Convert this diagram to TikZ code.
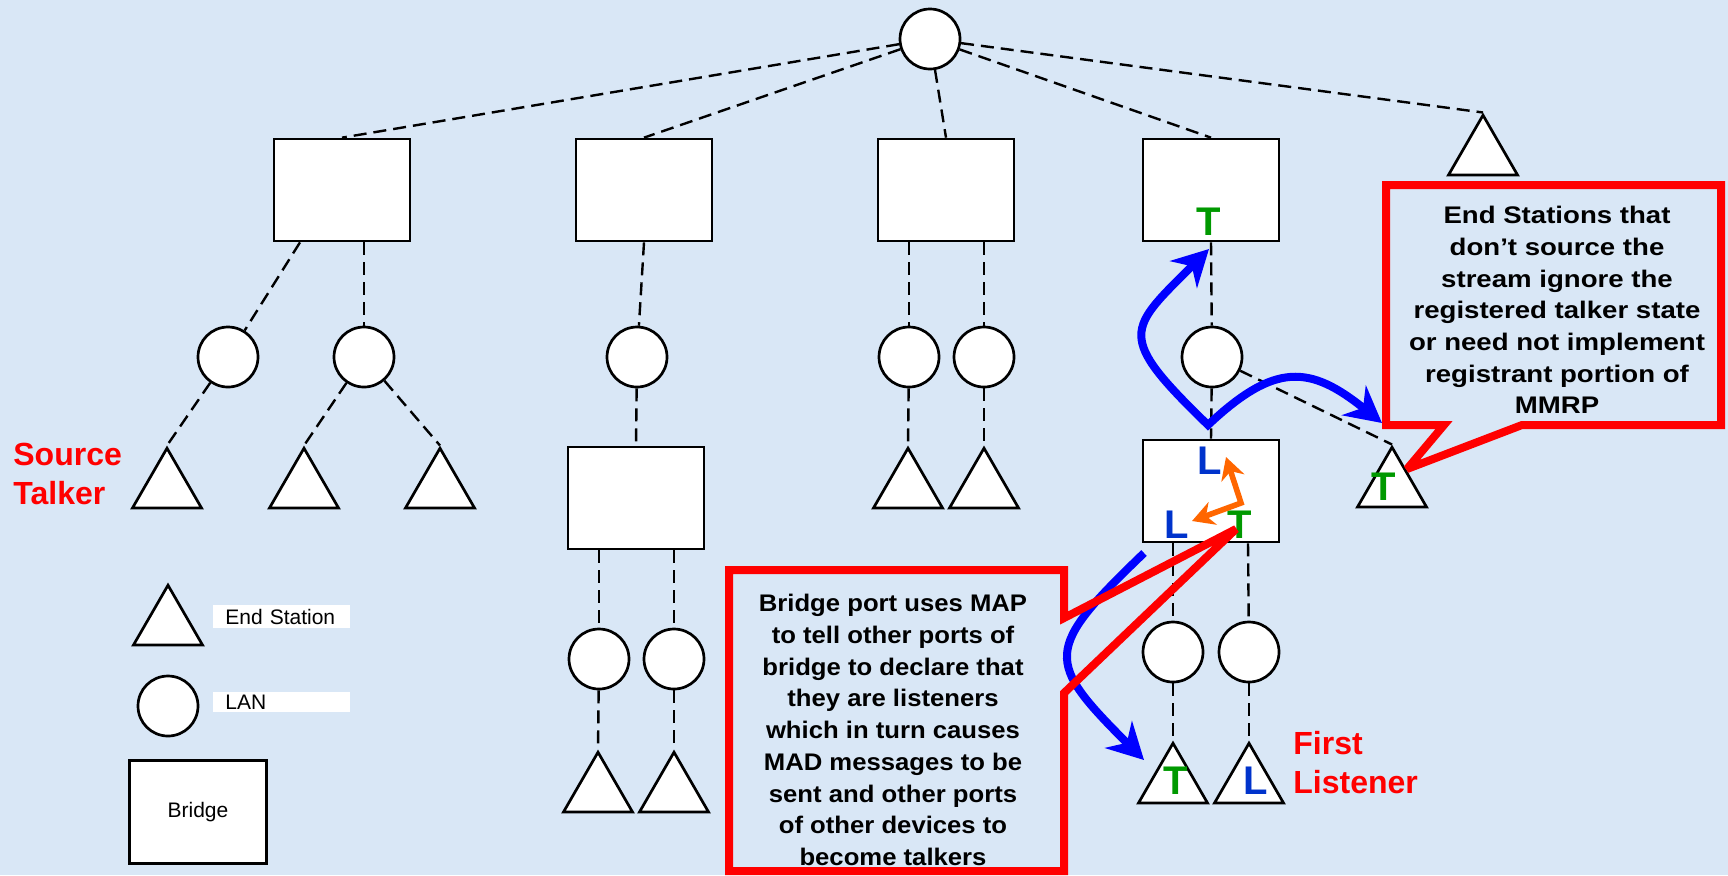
\documentclass[tikz,border=0pt]{standalone}
\usepackage{fontspec}
\setmainfont{Liberation Sans}
\newfontfamily\calfontA{Liberation Sans}[FakeStretch=1.15]
\newfontfamily\calfontB{Liberation Sans}[FakeStretch=1.07]
\usetikzlibrary{shapes.geometric,arrows.meta}
\definecolor{bgc}{RGB}{217,231,246}
\definecolor{tgreen}{RGB}{0,153,0}
\definecolor{lblue}{RGB}{0,51,204}
\definecolor{aorange}{RGB}{255,102,0}
\begin{document}
\begin{tikzpicture}[x=0.5pt,y=-0.5pt,
  bridgebox/.style={draw, fill=white, line width=1.35pt, minimum width=68pt, minimum height=51pt, inner sep=0pt},
  lan/.style={circle, draw, fill=white, line width=1.35pt, minimum size=30pt, inner sep=0pt},
  station/.style={regular polygon, regular polygon sides=3, draw, fill=white, line width=1.35pt, minimum size=39.8pt, inner sep=0pt},
  conn/.style={line width=1.2pt, dash pattern=on 6.5pt off 3.5pt},
  tag/.style={fill=white, inner sep=0pt, text width=68.5pt, align=left, font=\fontsize{10.5pt}{12pt}\selectfont},
  letter/.style={inner sep=0pt, font=\fontsize{20pt}{24pt}\selectfont\bfseries},
  redlabel/.style={inner sep=0pt, align=left, text=red, font=\fontsize{16pt}{19.5pt}\selectfont\bfseries},
  calltextA/.style={inner sep=0pt, align=center, font=\calfontA\fontsize{12pt}{15.85pt}\selectfont\bfseries},
  calltextB/.style={inner sep=0pt, align=center, font=\calfontB\fontsize{12pt}{15.85pt}\selectfont\bfseries},
  callout/.style={draw=red, line width=4pt, miter limit=3},
  barrow/.style={line width=4pt, draw=blue, arrows={Stealth[length=18pt,width=19pt]-Stealth[length=18pt,width=19pt]}},
  sarrow/.style={line width=4pt, draw=blue, arrows={-Stealth[length=18pt,width=19pt]}},
  oarrow/.style={line width=2.8pt, draw=aorange, arrows={Stealth[length=11pt,width=12pt]-Stealth[length=11pt,width=12pt]}}
]
% background
\fill[bgc] (0,0) rectangle (1728,875);
\useasboundingbox (0,0) rectangle (1728,875);

% root LAN
\node[lan] (c0) at (930,39) {};
% top bridges
\node[bridgebox] (b1) at (342,190) {};
\node[bridgebox] (b2) at (644,190) {};
\node[bridgebox] (b3) at (946,190) {};
\node[bridgebox] (b4) at (1211,190) {};
\node[station] (tt) at (1483,155) {};
% second row LANs
\node[lan] (c1) at (228,357) {};
\node[lan] (c2) at (364,357) {};
\node[lan] (c3) at (637,357) {};
\node[lan] (c4) at (909,357) {};
\node[lan] (c5) at (984,357) {};
\node[lan] (c6) at (1212,357) {};
% end stations row
\node[station] (t1) at (167,488) {};
\node[station] (t2) at (304,488) {};
\node[station] (t3) at (440,488) {};
\node[station] (t4) at (908,488) {};
\node[station] (t5) at (984,488) {};
\node[station] (t6) at (1392,487) {};
% lower bridges
\node[bridgebox] (b5) at (636,498) {};
\node[bridgebox] (b6) at (1211,491) {};
\node[lan] (c7) at (599,659) {};
\node[lan] (c8) at (674,659) {};
\node[lan] (c9) at (1173,652) {};
\node[lan] (c10) at (1249,652) {};
\node[station] (t7) at (598,792) {};
\node[station] (t8) at (674,792) {};
\node[station] (t9) at (1173,783) {};
\node[station] (t10) at (1249,783) {};

% connectors
\draw[conn] (c0) -- (b1.north);
\draw[conn] (c0) -- (b2.north);
\draw[conn] (c0) -- (b3.north);
\draw[conn] (c0) -- (b4.north);
\draw[conn] (c0) -- (tt.corner 1);
\draw[conn] ([xshift=-21pt]b1.south) -- (c1);
\draw[conn] ([xshift=11pt]b1.south) -- (c2);
\draw[conn] (b2.south) -- (c3);
\draw[conn] ([xshift=-18.5pt]b3.south) -- (c4);
\draw[conn] ([xshift=19pt]b3.south) -- (c5);
\draw[conn] (b4.south) -- (c6);
\draw[conn] (c1) -- (t1.corner 1);
\draw[conn] (c2) -- (t2.corner 1);
\draw[conn] (c2) -- (t3.corner 1);
\draw[conn] (c3) -- (b5.north);
\draw[conn] (c4) -- (t4.corner 1);
\draw[conn] (c5) -- (t5.corner 1);
\draw[conn] (c6) -- (b6.north);
\draw[conn] (c6) -- (t6.corner 1);
\draw[conn] ([xshift=-18.5pt]b5.south) -- (c7);
\draw[conn] ([xshift=19pt]b5.south) -- (c8);
\draw[conn] (c7) -- (t7.corner 1);
\draw[conn] (c8) -- (t8.corner 1);
\draw[conn] ([xshift=-19pt]b6.south) -- (c9);
\draw[conn] ([xshift=18.5pt]b6.south) -- (c10);
\draw[conn] (c9) -- (t9.corner 1);
\draw[conn] (c10) -- (t10.corner 1);

% legend
\node[station] (lt) at (168,625) {};
\node[lan] (lc) at (168,706) {};
\node[bridgebox, minimum width=68.5pt, minimum height=51.5pt, font=\fontsize{10.5pt}{12pt}\selectfont] (lb) at (198,812) {Bridge};
\node[tag, anchor=west, minimum height=11.5pt] (les) at (213,616.5) {\hspace*{6pt}End Station};
\node[tag, anchor=west, minimum height=10pt] (llan) at (213,702) {\hspace*{6pt}LAN};

% red labels
\node[redlabel, anchor=west] (src) at (13,474) {Source\\Talker};
\node[redlabel, anchor=west] (fl) at (1293,763) {First\\Listener};

% letters
\node[letter, text=tgreen] (Tb4) at (1209,222) {T};
\node[letter, text=lblue] (Lb6a) at (1210,461) {L};
\node[letter, text=lblue] (Lb6b) at (1177,525) {L};
\node[letter, text=tgreen] (Tb6) at (1240,525) {T};
\node[letter, text=tgreen] (Tt6) at (1384,487) {T};
\node[letter, text=tgreen] (Tt9) at (1176,781) {T};
\node[letter, text=lblue] (Lt10) at (1256,781) {L};

% orange arrows inside bridge
\coordinate (oq) at (1241,503);
\coordinate (ou) at (1226,457);
\coordinate (ol) at (1192,521);
\draw[oarrow] (ou) -- (oq) -- (ol);

% blue arrows
\coordinate (bp) at (1208,425);
\coordinate (ba) at (1209,249);
\coordinate (bb) at (1382,423);
\coordinate (bs) at (1144,553);
\coordinate (bc) at (1144,760);
\draw[barrow] (ba) .. controls (1128,330) and (1115,335) .. (bp) .. controls (1275,362) and (1310,365) .. (bb);
\draw[sarrow] (bs) .. controls (1043,650) and (1045,661) .. (bc);

% callouts
\draw[callout] (1386,185) -- (1721,185) -- (1721,425) -- (1522,425) -- (1407,469) -- (1444,425) -- (1386,425) -- cycle;
\node[calltextA] (ct1) at (1557,310) {End Stations that\\don’t source the\\stream ignore the\\registered talker state\\or need not implement\\registrant portion of\\MMRP};
\draw[callout] (729,570) -- (1064,570) -- (1064,618) -- (1236,529) -- (1064,693) -- (1064,871) -- (729,871) -- cycle;
\node[calltextB] (ct2) at (893,730) {Bridge port uses MAP\\to tell other ports of\\bridge to declare that\\they are listeners\\which in turn causes\\MAD messages to be\\sent and other ports\\of other devices to\\become talkers};
\end{tikzpicture}
\end{document}
